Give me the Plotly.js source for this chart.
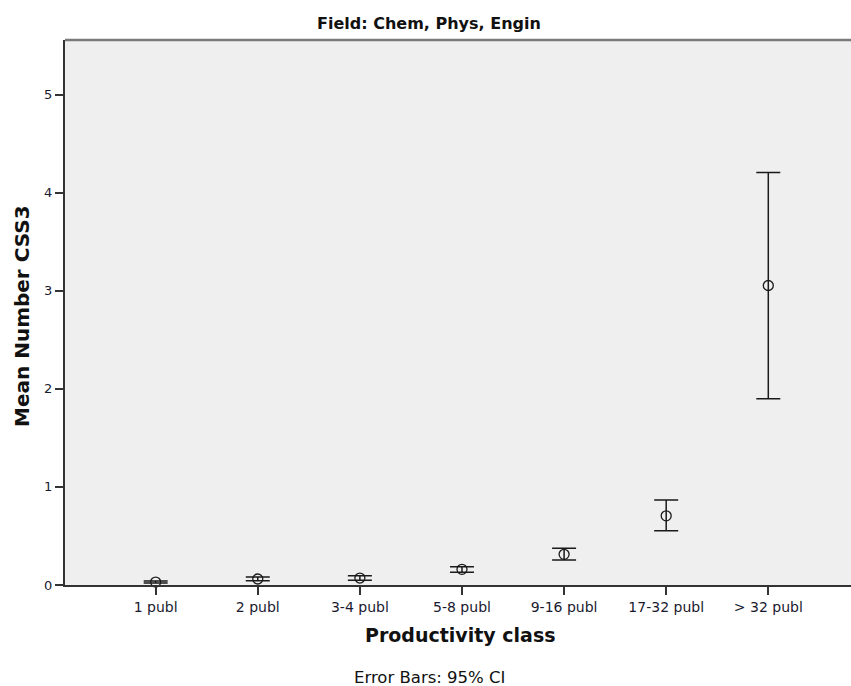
<!DOCTYPE html>
<html>
<head>
<meta charset="utf-8">
<script src="https://cdn.plot.ly/plotly-3.0.1.min.js"></script>
<style>html,body{margin:0;padding:0;background:#fff;}#chart{width:851px;height:686px;}</style>
</head>
<body>
<div id="chart"></div>
<script>
const categories = ["1 publ", "2 publ", "3-4 publ", "5-8 publ", "9-16 publ", "17-32 publ", "> 32 publ"];
const meanValues = [0.03, 0.061, 0.071, 0.160, 0.313, 0.705, 3.054];
const upperCI = [0.04, 0.082, 0.095, 0.187, 0.374, 0.866, 4.207];
const lowerCI = [0.02, 0.044, 0.048, 0.129, 0.255, 0.553, 1.898];
const yTicks = [0, 1, 2, 3, 4, 5];

const idx = categories.map((c, i) => i);
const errPlus = upperCI.map((u, i) => u - meanValues[i]);
const errMinus = lowerCI.map((l, i) => meanValues[i] - l);

const trace = {
  type: "scatter",
  mode: "markers",
  x: idx,
  y: meanValues,
  marker: {symbol: "circle-open", size: 10, color: "#1a1a1a", line: {width: 1.3, color: "#1a1a1a"}},
  error_y: {type: "data", symmetric: false, array: errPlus, arrayminus: errMinus,
            color: "#1a1a1a", thickness: 1.5, width: 12},
  hoverinfo: "skip",
  cliponaxis: false
};

const layout = {
  width: 851, height: 686,
  margin: {l: 65, r: 0, t: 40, b: 101},
  paper_bgcolor: "#ffffff",
  plot_bgcolor: "#efefef",
  showlegend: false,
  font: {family: "DejaVu Sans, sans-serif", color: "#1a1a2e"},
  xaxis: {
    range: [-0.888, 6.81],
    tickvals: idx, ticktext: categories,
    showgrid: false, zeroline: false,
    showline: true, linecolor: "#333333", linewidth: 2,
    ticks: "outside", ticklen: 8, tickwidth: 2, tickcolor: "#333333",
    tickfont: {size: 14, family: "DejaVu Sans, sans-serif", color: "#1a1a2e"},
    fixedrange: true
  },
  yaxis: {
    range: [0, 5.557],
    tickvals: yTicks, ticktext: yTicks.map(String),
    showgrid: false, zeroline: false,
    showline: true, linecolor: "#333333", linewidth: 2,
    ticks: "outside", ticklen: 8, tickwidth: 2, tickcolor: "#333333",
    tickfont: {size: 13, family: "DejaVu Sans, sans-serif", color: "#1a1a2e"},
    fixedrange: true
  },
  shapes: [
    {type: "line", xref: "paper", yref: "paper", x0: 0, x1: 1, y0: 1, y1: 1,
     line: {color: "#7a7a7a", width: 2.5}}
  ],
  annotations: [
    {text: "<b>Field: Chem, Phys, Engin</b>", xref: "paper", yref: "paper",
     x: (429 - 65) / 786, y: 1, xanchor: "center", yanchor: "middle", yshift: 17, showarrow: false,
     font: {size: 16, family: "DejaVu Sans, sans-serif", color: "#111"}},
    {text: "<b>Productivity class</b>", xref: "paper", yref: "paper",
     x: (461 - 65) / 786, y: 0, xanchor: "center", yanchor: "middle", yshift: -50, showarrow: false,
     font: {size: 19, family: "DejaVu Sans, sans-serif", color: "#111"}},
    {text: "Error Bars: 95% CI", xref: "paper", yref: "paper",
     x: (429 - 65) / 786, y: 0, xanchor: "center", yanchor: "middle", yshift: -92, showarrow: false,
     font: {size: 16.5, family: "DejaVu Sans, sans-serif", color: "#111"}},
    {text: "<b>Mean Number CSS3</b>", xref: "paper", yref: "paper",
     x: 0, xanchor: "center", yanchor: "middle", xshift: -43, y: (585 - 316) / 545, textangle: -90, showarrow: false,
     font: {size: 20, family: "DejaVu Sans, sans-serif", color: "#111"}}
  ]
};

Plotly.newPlot("chart", [trace], layout, {staticPlot: true, displayModeBar: false});
</script>
</body>
</html>
